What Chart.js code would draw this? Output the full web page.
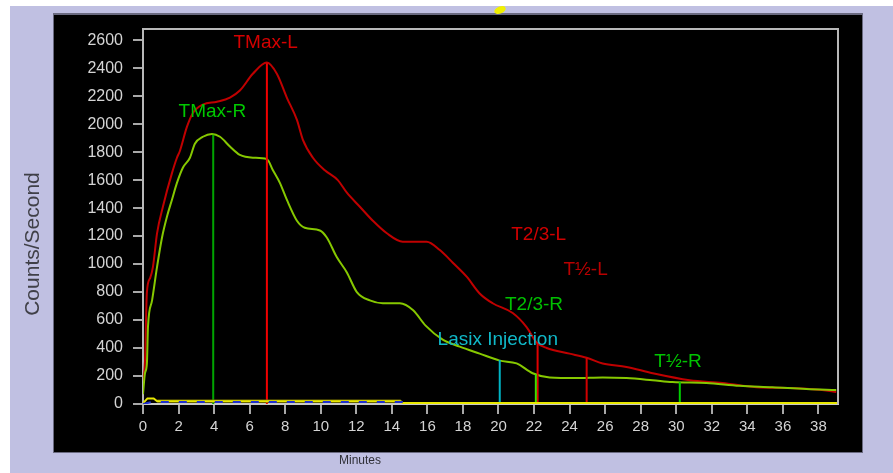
<!DOCTYPE html>
<html><head><meta charset="utf-8">
<style>html,body{margin:0;padding:0;background:#fff;overflow:hidden}canvas{display:block}</style>
<script src="https://cdn.jsdelivr.net/npm/chart.js@4.4.0/dist/chart.umd.min.js"></script>
</head><body><canvas id="c" width="893" height="473"></canvas>
<script>
// ---- data ----
const timeL = [0, 0.11, 0.22, 0.4, 0.56, 0.79, 1.12, 1.63, 1.91, 2.08, 2.47, 2.81, 3.37, 4.16, 4.89, 5.45, 6.18, 6.97, 7.53, 8.09, 8.66, 8.99, 9.56, 10.23, 10.96, 11.47, 12.2, 12.93, 13.72, 14.61, 15.4, 15.96, 16.7, 17.43, 18.21, 18.94, 19.67, 20.8, 21.58, 22.15, 22.71, 24.0, 24.96, 25.86, 27.2, 28.67, 30.75, 32.6, 34.5, 36.4, 38.2, 39.0];
const countsL = [150, 300, 800, 900, 980, 1220, 1410, 1650, 1760, 1810, 1980, 2080, 2140, 2160, 2190, 2240, 2360, 2440, 2360, 2190, 2030, 1890, 1760, 1670, 1600, 1510, 1410, 1310, 1220, 1160, 1160, 1160, 1100, 1010, 910, 790, 720, 650, 550, 440, 400, 360, 330, 290, 265, 220, 170, 150, 120, 115, 100, 86];

const timeR = [0, 0.11, 0.22, 0.28, 0.51, 0.79, 1.07, 1.35, 1.63, 1.91, 2.25, 2.64, 2.92, 3.37, 3.88, 4.33, 4.89, 5.45, 6.18, 6.97, 7.31, 7.7, 8.09, 8.66, 9.1, 9.95, 10.34, 10.9, 11.47, 12.03, 12.76, 13.49, 14.45, 15.2, 15.9, 16.86, 17.82, 18.94, 20.07, 21.02, 21.92, 22.88, 24.4, 25.86, 27.2, 28.67, 29.79, 31.7, 33.56, 35.41, 37.32, 39.0];
const countsR = [70, 220, 290, 550, 740, 980, 1190, 1340, 1460, 1580, 1690, 1760, 1860, 1910, 1930, 1910, 1840, 1780, 1760, 1750, 1670, 1580, 1460, 1310, 1260, 1240, 1190, 1050, 940, 800, 740, 720, 720, 670, 560, 460, 410, 360, 310, 290, 220, 190, 185, 190, 185, 170, 157, 150, 130, 120, 107, 100];

const timeBgA = [0, 0.25, 0.6, 0.8, 14.5, 14.6, 39.1];
const countsBgA = [5, 40, 40, 20, 20, 8, 8];
const timeBgB = [0.8, 14.5];
const countsBgB = [22, 22];
const timeBgC = [0, 0.5, 15];
const countsBgC = [0, 14, 14];

const markerNames = ['TMax-R', 'TMax-L', 'Lasix', 'T2/3-R', 'T2/3-L', 'T½-L', 'T½-R'];
const markerTimes = [3.95, 6.97, 20.07, 22.1, 22.2, 24.96, 30.2];
const markerTops  = [1925, 2435, 315, 215, 440, 330, 157];

const labelTexts  = ['TMax-L', 'TMax-R', 'T2/3-L', 'T½-L', 'T2/3-R', 'Lasix Injection', 'T½-R'];
const labelTimes  = [6.9, 3.9, 22.26, 24.9, 22.0, 19.96, 30.1];
const labelCounts = [2580, 2086, 1207, 957, 707, 457, 300];

const xTickStep = 2, xMax = 39.1;
const yTickStep = 200, yMax = 2680;

// ---- styles ----
const markerColors = ['#00a400', '#f00000', '#00b4c4', '#40dc00', '#e00000', '#d00000', '#00d000'];
const labelColors  = ['#d40000', '#00c800', '#d00000', '#b80000', '#00c000', '#10b8c8', '#00c400'];
const FONT = '"Liberation Sans", Arial, sans-serif';

const pts = (xs, ys) => xs.map((x, i) => ({x, y: ys[i]}));

const datasets = [
  {data: pts(timeBgC, countsBgC), borderColor: '#2030d0', borderWidth: 2, borderDash: [8, 10]},
  {data: pts(timeBgA, countsBgA), borderColor: '#e8e800', borderWidth: 2},
  {data: pts(timeBgB, countsBgB), borderColor: '#7a7400', borderWidth: 3},
];
markerTimes.forEach((t, i) => {
  datasets.push({data: [{x: t, y: 0}, {x: t, y: markerTops[i]}], borderColor: markerColors[i], borderWidth: 2});
});
datasets.push({data: pts(timeR, countsR), borderColor: '#86c800', borderWidth: 2, cubicInterpolationMode: 'monotone'});
datasets.push({data: pts(timeL, countsL), borderColor: '#c00000', borderWidth: 2, cubicInterpolationMode: 'monotone'});

const deco = {
  id: 'deco',
  beforeDraw(chart) {
    const c = chart.ctx;
    c.save();
    c.fillStyle = '#ffffff'; c.fillRect(0, 0, 893, 473);
    c.fillStyle = '#c0c0e2'; c.fillRect(10, 6, 883, 467);
    c.fillStyle = '#6a6a80'; c.fillRect(53, 13, 810, 440);
    c.fillStyle = '#000000'; c.fillRect(54, 15, 808, 437);
    // yellow fragment at top
    c.fillStyle = '#f0f000';
    c.beginPath(); c.ellipse(500, 10, 6, 3.5, -0.4, 0, Math.PI * 2); c.fill();
    c.restore();
  },
  afterDatasetsDraw(chart) {
    const c = chart.ctx, a = chart.chartArea;
    const xs = chart.scales.x, ys = chart.scales.y;
    c.save();
    c.strokeStyle = '#b8b8b8'; c.lineWidth = 2;
    c.beginPath();
    c.moveTo(a.left, a.top); c.lineTo(a.right, a.top); c.lineTo(a.right, a.bottom);
    c.stroke();
    c.font = '19px ' + FONT;
    c.textAlign = 'center'; c.textBaseline = 'middle';
    labelTexts.forEach((txt, i) => {
      c.fillStyle = labelColors[i];
      c.fillText(txt, xs.getPixelForValue(labelTimes[i]), ys.getPixelForValue(labelCounts[i]));
    });
    // axis titles
    c.fillStyle = '#404048';
    c.font = '21px ' + FONT;
    c.translate(33, 244); c.rotate(-Math.PI / 2);
    c.fillText('Counts/Second', 0, 0);
    c.setTransform(1, 0, 0, 1, 0, 0);
    c.font = '12px ' + FONT;
    c.fillStyle = '#303038';
    c.fillText('Minutes', 360, 461);
    c.restore();
  }
};

new Chart(document.getElementById('c'), {
  type: 'line',
  data: {datasets},
  plugins: [deco],
  options: {
    responsive: false, animation: false, devicePixelRatio: 1,
    layout: {padding: {left: 0, right: 55, top: 29, bottom: 0}},
    elements: {point: {radius: 0}, line: {tension: 0, fill: false}},
    plugins: {legend: {display: false}, tooltip: {enabled: false}},
    scales: {
      x: {
        type: 'linear', min: 0, max: xMax,
        afterFit: s => { s.height = 69; },
        border: {display: true, color: '#c8c8c8', width: 2},
        grid: {drawOnChartArea: false, drawTicks: true, tickLength: 10, color: '#a8a8a8', lineWidth: 2},
        ticks: {stepSize: xTickStep, includeBounds: false, padding: 4, color: '#d4d4d4', font: {size: 15, family: FONT}, callback: v => String(v), maxRotation: 0, autoSkip: false}
      },
      y: {
        type: 'linear', min: 0, max: yMax,
        afterFit: s => { s.width = 143; },
        border: {display: true, color: '#b8b8b8', width: 2},
        grid: {drawOnChartArea: false, drawTicks: true, tickLength: 10, color: '#a8a8a8', lineWidth: 2},
        ticks: {stepSize: yTickStep, includeBounds: false, padding: 10, color: '#d4d4d4', font: {size: 16, family: FONT}, callback: v => String(v), autoSkip: false}
      }
    }
  }
});
</script></body></html>
